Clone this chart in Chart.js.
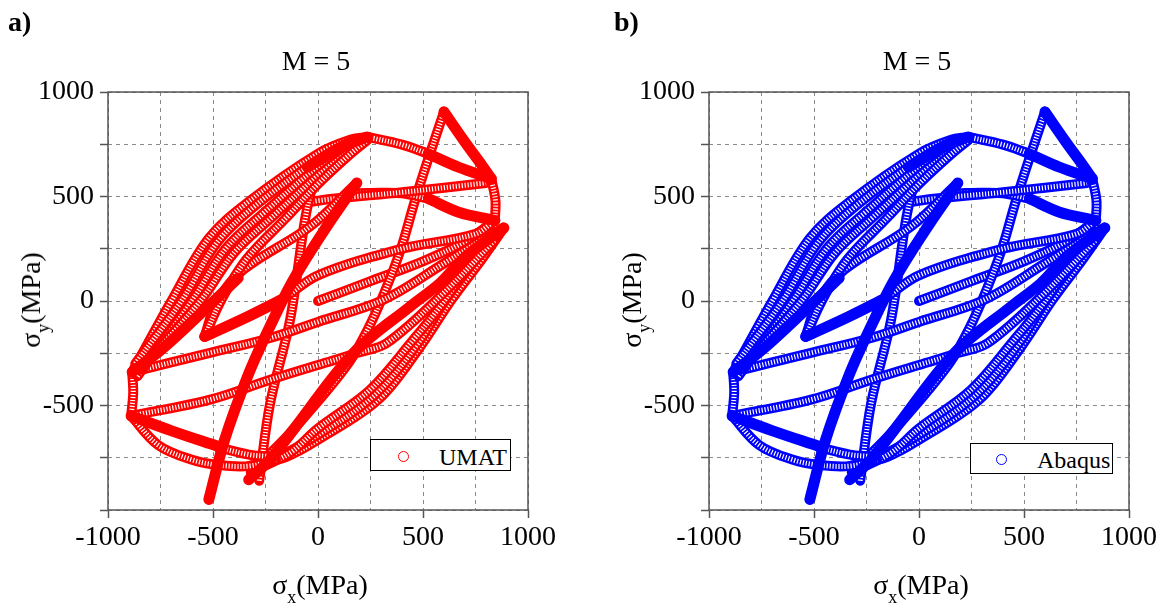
<!DOCTYPE html>
<html>
<head>
<meta charset="utf-8">
<script src="https://cdn.jsdelivr.net/npm/chart.js@4.4.1/dist/chart.umd.min.js"></script>
<style>
  body { margin: 0; background: #fff; font-family: 'Liberation Serif', 'Times New Roman', serif; }
  #wrap { position: relative; width: 1167px; height: 604px; overflow: hidden; }
  .panel { position: absolute; top: 0; width: 583px; height: 604px; }
  .txt { position: absolute; color: #000; white-space: nowrap; line-height: 1; }
  .tag { font-weight: bold; font-size: 28px; }
  .title { font-size: 28px; transform: translate(-50%, -50%); }
  .xlab { font-size: 28px; transform: translate(-50%, -50%); }
  .ylab { font-size: 28px; transform: translate(-50%, -50%) rotate(-90deg); }
  sub { font-size: 18px; vertical-align: -9px; line-height: 0; }
  .legend { position: absolute; background: #fff; border: 1px solid #000; box-sizing: border-box; }
  .legend .mk { position: absolute; width: 11px; height: 11px; border-radius: 50%; box-sizing: border-box; border: 1.5px solid; }
  .legend .lt { position: absolute; font-size: 24px; line-height: 1; }
</style>
</head>
<body>
<div id="wrap">
  <div class="panel" style="left:0"><canvas id="chartA" width="583" height="604"></canvas></div>
  <div class="panel" style="left:601px"><canvas id="chartB" width="583" height="604"></canvas></div>

  <div class="txt tag" style="left:8px; top:8px;">a)</div>
  <div class="txt tag" style="left:614px; top:8px;">b)</div>
  <div class="txt title" style="left:316px; top:61px;">M = 5</div>
  <div class="txt title" style="left:917px; top:61px;">M = 5</div>
  <div class="txt xlab" style="left:320px; top:585px;">σ<sub>x</sub>(MPa)</div>
  <div class="txt xlab" style="left:921px; top:585px;">σ<sub>x</sub>(MPa)</div>
  <div class="txt ylab" style="left:31px; top:300px;">σ<sub>y</sub>(MPa)</div>
  <div class="txt ylab" style="left:632px; top:300px;">σ<sub>y</sub>(MPa)</div>

  <div class="legend" style="left:370px; top:439px; width:141px; height:32px;">
    <div class="mk" style="left:27px; top:11px; border-color:#ff0000;"></div>
    <div class="lt" style="left:68px; top:5px;">UMAT</div>
  </div>
  <div class="legend" style="left:970px; top:443px; width:143px; height:31px;">
    <div class="mk" style="left:25px; top:10px; border-color:#0000ff;"></div>
    <div class="lt" style="left:66px; top:4px;">Abaqus</div>
  </div>
</div>

<script>
// stress path, [sigma_x, sigma_y] in MPa
// stretches drawn with sparse (hollow looking) markers
const originLine = [[0, 0], [250, 95], [500, 190], [700, 285], [842, 385]];
const peakDown = [[600, 905], [525, 680], [460, 475], [395, 250], [320, 50], [240, -130], [150, -290], [0, -480], [-150, -650], [-300, -800]];
const topArcStart = [[235, 785], [400, 748], [525, 705]];
const cornerDrop = [[825, 585], [845, 480], [842, 385]];
const midArcStart = [[185, 515], [300, 518], [400, 515], [525, 490]];
const lineToCorner = [[-250, 430], [0, 480], [400, 520], [800, 565]];
const steepRise = [[-280, -860], [-228, -490], [-133, -90], [-60, 400], [-10, 620]];
const lowArcOuter = [[-330, -790], [-150, -745], [0, -664], [286, -473], [477, -233], [636, 6], [780, 200], [885, 350]];
const lowArcThird = [[-320, -820], [0, -640], [270, -450], [470, -210], [610, 10], [760, 210], [880, 348]];
const lowArcInner = [[-300, -810], [-133, -727], [0, -610], [249, -424], [450, -190], [582, -26], [740, 200], [870, 345]];
const crossUpper = [[-885, -340], [-514, -248], [-228, -177], [0, -100], [312, 6], [600, 180], [840, 330]];
const crossLower = [[-890, -550], [-514, -472], [-228, -377], [0, -306], [185, -249], [328, -201], [600, 40], [840, 290]];
const kinkLine = [[-333, -74], [-174, 6], [0, 123], [400, 250], [747, 320], [842, 385]];
const leftSide = [[-890, -550], [-880, -440], [-885, -340]];
const bottomArc = [[-890, -550], [-760, -690], [-600, -760], [-476, -785], [-330, -790], [-200, -760]];
const bottomTail = [[-476, -700], [-330, -735], [-237, -744]];
const returnLine = [[185, 565], [-37, 357], [-355, 150], [-480, 0], [-540, -170]];
const upArcOuter = [[-885, -340], [-698, 0], [-520, 300], [-330, 475], [0, 705], [150, 770], [235, 785]];
const upArcSecond = [[-870, -300], [-650, 0], [-480, 280], [-300, 455], [0, 675], [150, 760], [235, 785]];
const upArcMid = [[-860, -360], [-600, 0], [-440, 250], [-260, 420], [0, 640], [150, 730], [235, 785]];
const upArcFourth = [[-850, -330], [-560, 0], [-400, 230], [-220, 400], [0, 600], [150, 715], [235, 780]];
const upArcInner = [[-540, -170], [-460, 6], [-340, 200], [-150, 400], [0, 560], [150, 700], [235, 770]];

// stretches where the markers pile up into a solid band
const peakToCorner = [[600, 905], [700, 760], [780, 650], [825, 585]];
const topArcEnd = [[525, 705], [670, 640], [825, 585]];
const midArcEnd = [[525, 490], [670, 425], [842, 385]];
const bottomToInner = [[-520, -950], [-445, -665], [-335, -360], [-236, -137], [-117, 102], [42, 357], [185, 565]];
const lowCuspToRight = [[-330, -855], [-228, -759], [-117, -616], [169, -249], [439, -26], [582, 86], [700, 210], [885, 350]];
const leftCuspRise = [[-885, -340], [-746, -233], [-523, -26], [-380, 110]];
const leftCuspDrop = [[-890, -550], [-700, -620], [-476, -696]];
const kinkStart = [[-540, -170], [-333, -74], [-174, 6]];
const topBundle = [[-50, 640], [120, 740], [235, 785]];

const hollowPaths = [originLine, peakDown, topArcStart, cornerDrop, midArcStart, lineToCorner, steepRise,
  lowArcOuter, lowArcThird, lowArcInner, crossUpper, crossLower, kinkLine, leftSide, bottomArc, bottomTail,
  returnLine, upArcOuter, upArcSecond, upArcMid, upArcFourth, upArcInner];
const solidPaths = [peakToCorner, topArcEnd, midArcEnd, bottomToInner, lowCuspToRight, leftCuspRise,
  leftCuspDrop, kinkStart, topBundle];

const tickValues = [-1000, -750, -500, -250, 0, 250, 500, 750, 1000];

function toXY(path) {
  return path.map(p => ({ x: p[0], y: p[1] }));
}

function buildDatasets(color) {
  const sets = [];
  hollowPaths.forEach(path => {
    // band of ring markers: coloured stroke with a dashed white core on top
    sets.push({ data: toXY(path), borderColor: color, borderWidth: 10, tension: 0.35,
      borderCapStyle: 'round', borderJoinStyle: 'round' });
    sets.push({ data: toXY(path), borderColor: '#ffffff', borderWidth: 5, tension: 0.35,
      borderDash: [1.2, 1.8] });
  });
  solidPaths.forEach(path => {
    sets.push({ data: toXY(path), borderColor: color, borderWidth: 11, tension: 0.35,
      borderCapStyle: 'round', borderJoinStyle: 'round' });
  });
  sets.forEach(s => {
    s.showLine = true;
    s.pointRadius = 0;
    s.fill = false;
  });
  // Chart.js paints the first dataset last, so flip to keep this order on screen
  return sets.reverse();
}

const framePlugin = {
  id: 'frame',
  beforeDatasetsDraw(chart) {
    const a = chart.chartArea;
    const ctx = chart.ctx;
    ctx.save();
    ctx.strokeStyle = '#555';
    ctx.lineWidth = 1.5;
    ctx.strokeRect(a.left, a.top, a.right - a.left, a.bottom - a.top);
    ctx.restore();
  }
};

function makeChart(id, color) {
  const tickFont = { family: "'Liberation Serif', 'Times New Roman', serif", size: 28 };
  return new Chart(document.getElementById(id), {
    type: 'scatter',
    data: { datasets: buildDatasets(color) },
    options: {
      responsive: false,
      animation: false,
      events: [],
      layout: { padding: { left: 0, right: 55, top: 92, bottom: 0 } },
      plugins: { legend: { display: false }, tooltip: { enabled: false } },
      scales: {
        x: {
          type: 'linear', min: -1000, max: 1000,
          afterBuildTicks: s => { s.ticks = tickValues.map(v => ({ value: v })); },
          afterFit: s => { s.height = 94; },
          ticks: {
            autoSkip: false, maxRotation: 0, color: '#000', font: tickFont, padding: 3,
            callback: v => (v % 500 === 0 ? String(v) : '')
          },
          grid: {
            color: '#8a8a8a', lineWidth: 1, tickLength: 8, tickWidth: 1.5,
            tickColor: c => (c.tick && c.tick.value % 500 === 0 ? '#555' : 'rgba(0,0,0,0)')
          },
          border: { display: false, dash: [4, 4] }
        },
        y: {
          type: 'linear', min: -1000, max: 1000,
          afterBuildTicks: s => { s.ticks = tickValues.map(v => ({ value: v })); },
          afterFit: s => { s.width = 108; },
          ticks: {
            autoSkip: false, color: '#000', font: tickFont, padding: 6,
            callback: v => (v % 500 === 0 && v > -1000 ? String(v) : '')
          },
          grid: { color: '#8a8a8a', lineWidth: 1, tickLength: 8, tickWidth: 1.5, tickColor: '#555' },
          border: { display: false, dash: [4, 4] }
        }
      }
    },
    plugins: [framePlugin]
  });
}

makeChart('chartA', '#ff0000');
makeChart('chartB', '#0000ff');
</script>
</body>
</html>
